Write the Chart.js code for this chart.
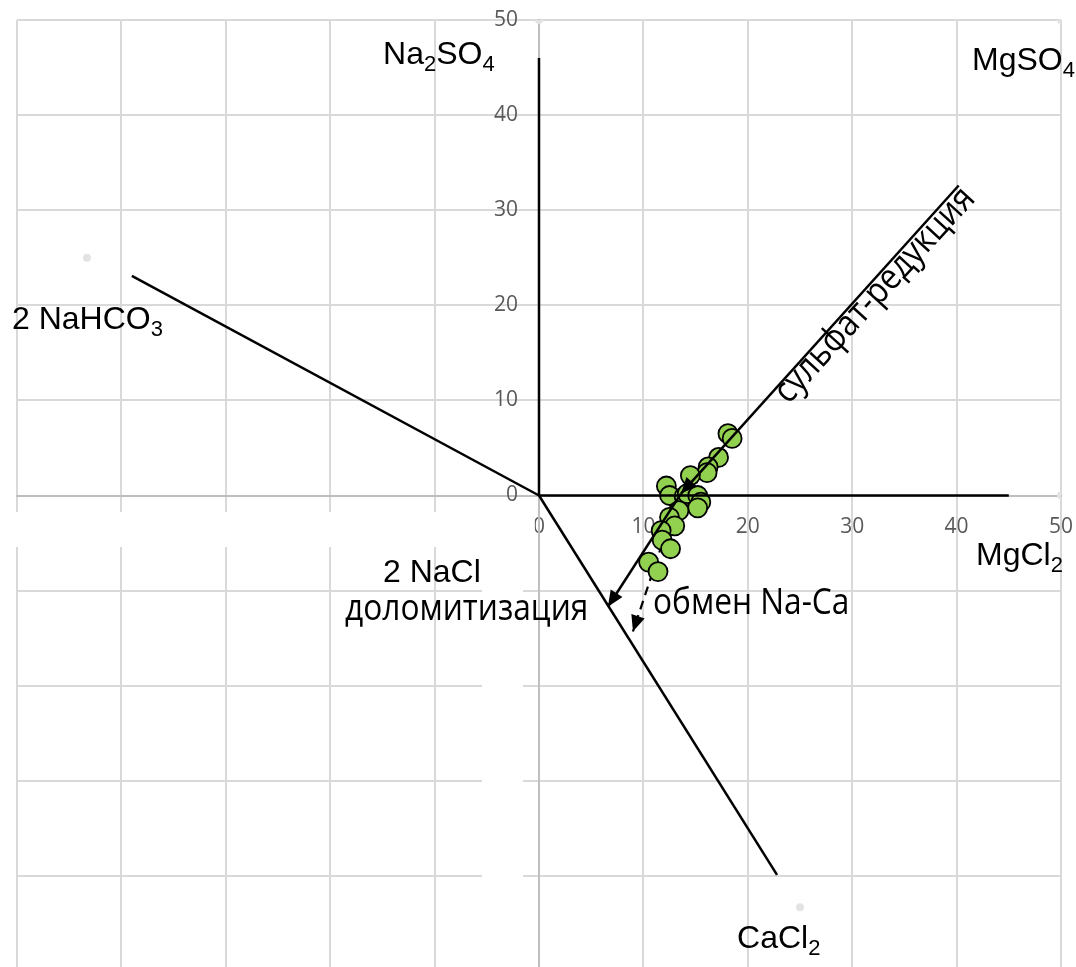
<!DOCTYPE html>
<html>
<head>
<meta charset="utf-8">
<script src="https://cdn.jsdelivr.net/npm/chart.js@4"></script>
<style>
  html, body { margin: 0; padding: 0; background: #fff; overflow: hidden; }
  #wrap { width: 1076px; height: 985px; }
</style>
</head>
<body>
<div id="wrap"><canvas id="chart"></canvas></div>
<script>
// axis range (both axes), ticks every 10, only 0..50 labelled
const axisMin = -50;
const axisMax = 50;
const tickStep = 10;

// water samples: x = MgCl2 axis, y = Na2SO4 axis
const sampleX = [18.1, 18.5, 17.2, 16.2, 16.1, 14.5, 12.2, 12.5, 13.9, 14.2, 15.2, 15.5, 15.2, 13.4, 12.5, 13.0, 11.7, 11.8, 12.6, 10.5, 11.4];
const sampleY = [6.5, 6.0, 4.0, 3.0, 2.4, 2.1, 1.0, 0.0, -0.1, 0.2, 0.0, -0.7, -1.3, -1.6, -2.3, -3.2, -3.7, -4.7, -5.6, -7.0, -8.0];

// faint end-member markers
const cornerX = [0, 50, 50, -43.3, 25];
const cornerY = [50, 50, 0, 25, -43.3];

// rays from the origin to each component
const rayNa2SO4 = [[0, 0], [0, 46]];
const rayMgCl2 = [[0, 0], [45, 0]];
const rayNaHCO3 = [[0, 0], [-39, 23.1]];
const rayCaCl2 = [[0, 0], [22.8, -39.9]];

// process arrows (head at the last point)
const sulfateArrow = [[40.2, 32.6], [13.6, 0.2]];
const dolomiteArrow = [[13.6, 0.2], [6.6, -11.7]];
const exchangeArrow = [[12.7, -2.1], [9.0, -14.3]];

const toXY = arr => arr.map(p => ({ x: p[0], y: p[1] }));

// white boxes of the original text frames that hide part of the grid
const maskBoxes = [
  [-53, -0.4, -1.73, -5.42],
  [-5.46, -1.53, -5.42, -55]
];

const arialFont = '"Liberation Sans", Arial, sans-serif';
const cyrFont = '"Open Sans", "Noto Sans", sans-serif';

// chemistry labels: parts starting with "_" are subscripts
const chemLabels = [
  { parts: ['Na', '_2', 'SO', '_4'], x: -14.94, y: 45.4 },
  { parts: ['MgSO', '_4'], x: 41.48, y: 44.74 },
  { parts: ['2 NaHCO', '_3'], x: -50.48, y: 17.5 },
  { parts: ['MgCl', '_2'], x: 41.86, y: -7.31 },
  { parts: ['CaCl', '_2'], x: 18.97, y: -47.58 },
  { parts: ['2 NaCl'], x: -14.94, y: -9.1 }
];
const processLabels = [
  { text: 'доломитизация', x: -18.58, y: -13.09, angle: 0, align: 'left' },
  { text: 'обмен Na-Ca', x: 10.92, y: -12.46, angle: 0, align: 'left' },
  { text: 'сульфат-редукция', x: 32.9, y: 20.3, angle: -47.5, align: 'center' }
];

function drawChem(ctx, px, py, parts) {
  let cx = px;
  parts.forEach(p => {
    const sub = p.startsWith('_');
    const t = sub ? p.slice(1) : p;
    ctx.font = (sub ? 22 : 32) + 'px ' + arialFont;
    ctx.fillText(t, cx, py + (sub ? 7 : 0));
    cx += ctx.measureText(t).width;
  });
}

const overlay = {
  id: 'overlay',
  beforeDatasetsDraw(chart) {
    const { ctx, scales: { x, y } } = chart;
    ctx.save();
    ctx.fillStyle = '#ffffff';
    maskBoxes.forEach(b => {
      const x0 = x.getPixelForValue(b[0]), x1 = x.getPixelForValue(b[1]);
      const y0 = y.getPixelForValue(b[2]), y1 = y.getPixelForValue(b[3]);
      ctx.fillRect(Math.min(x0, x1), Math.min(y0, y1), Math.abs(x1 - x0), Math.abs(y1 - y0));
    });
    ctx.restore();
  },
  afterDatasetsDraw(chart) {
    const { ctx, scales: { x, y } } = chart;
    ctx.save();
    // arrow heads
    ctx.fillStyle = '#000';
    chart.data.datasets.forEach((ds, i) => {
      if (!ds.arrowHead) return;
      const pts = chart.getDatasetMeta(i).data;
      const a = pts[pts.length - 2], b = pts[pts.length - 1];
      const ang = Math.atan2(b.y - a.y, b.x - a.x);
      const len = 16, half = 7;
      ctx.beginPath();
      ctx.moveTo(b.x, b.y);
      ctx.lineTo(b.x - len * Math.cos(ang) + half * Math.sin(ang), b.y - len * Math.sin(ang) - half * Math.cos(ang));
      ctx.lineTo(b.x - len * Math.cos(ang) - half * Math.sin(ang), b.y - len * Math.sin(ang) + half * Math.cos(ang));
      ctx.closePath();
      ctx.fill();
    });

    // labels
    ctx.fillStyle = '#000';
    ctx.textBaseline = 'alphabetic';
    ctx.textAlign = 'left';
    chemLabels.forEach(l => drawChem(ctx, x.getPixelForValue(l.x), y.getPixelForValue(l.y), l.parts));

    processLabels.forEach(l => {
      ctx.save();
      ctx.translate(x.getPixelForValue(l.x), y.getPixelForValue(l.y));
      ctx.rotate(l.angle * Math.PI / 180);
      ctx.scale(0.88, 1);
      ctx.font = '36px ' + cyrFont;
      ctx.textAlign = l.align;
      ctx.fillText(l.text, 0, 0);
      ctx.restore();
    });
    ctx.restore();
  }
};

const lineStyle = {
  showLine: true,
  pointRadius: 0,
  borderColor: '#000',
  borderWidth: 2.5,
  fill: false,
  order: 0
};

const tickFont = { family: 'Open Sans', size: 21 };

new Chart(document.getElementById('chart'), {
  type: 'scatter',
  data: {
    datasets: [
      { ...lineStyle, data: toXY(rayNa2SO4) },
      { ...lineStyle, data: toXY(rayMgCl2) },
      { ...lineStyle, data: toXY(rayNaHCO3) },
      { ...lineStyle, data: toXY(rayCaCl2) },
      { ...lineStyle, data: toXY(sulfateArrow), arrowHead: true },
      { ...lineStyle, data: toXY(dolomiteArrow), arrowHead: true },
      {
        data: sampleX.map((v, i) => ({ x: v, y: sampleY[i] })),
        pointRadius: 9.5,
        pointBackgroundColor: '#92d050',
        pointBorderColor: '#000',
        pointBorderWidth: 1.8,
        order: 1
      },
      { ...lineStyle, borderWidth: 2.2, borderDash: [9, 6], data: toXY(exchangeArrow), arrowHead: true, order: 2 },
      {
        data: cornerX.map((v, i) => ({ x: v, y: cornerY[i] })),
        pointRadius: 4,
        pointBackgroundColor: '#e3e3e3',
        pointBorderWidth: 0,
        order: 3
      }
    ]
  },
  options: {
    responsive: true,
    maintainAspectRatio: false,
    animation: false,
    layout: { padding: { left: 17, right: 15, top: 20, bottom: 14 } },
    plugins: { legend: { display: false }, tooltip: { enabled: false } },
    scales: {
      x: {
        type: 'linear',
        min: axisMin,
        max: axisMax,
        position: { y: 0 },
        grid: { color: '#d9d9d9', lineWidth: 2, drawTicks: true, tickLength: 19, tickColor: 'rgba(0,0,0,0)' },
        border: { color: '#bfbfbf', width: 2 },
        ticks: {
          stepSize: tickStep,
          autoSkip: false,
          maxRotation: 0,
          padding: 0,
          color: '#595959',
          font: tickFont,
          callback: v => (v < 0 ? '' : String(v))
        }
      },
      y: {
        type: 'linear',
        min: axisMin,
        max: axisMax,
        position: { x: 0 },
        grid: { color: '#d9d9d9', lineWidth: 2, drawTicks: false },
        border: { color: '#bfbfbf', width: 2 },
        ticks: {
          stepSize: tickStep,
          autoSkip: false,
          padding: 0,
          color: '#595959',
          font: tickFont,
          // labels sit left of the centred axis, the spaces keep them off the line
          callback: v => (v < 0 ? '' : v + '\u2002\u2002')
        }
      }
    }
  },
  plugins: [overlay]
});
</script>
</body>
</html>
